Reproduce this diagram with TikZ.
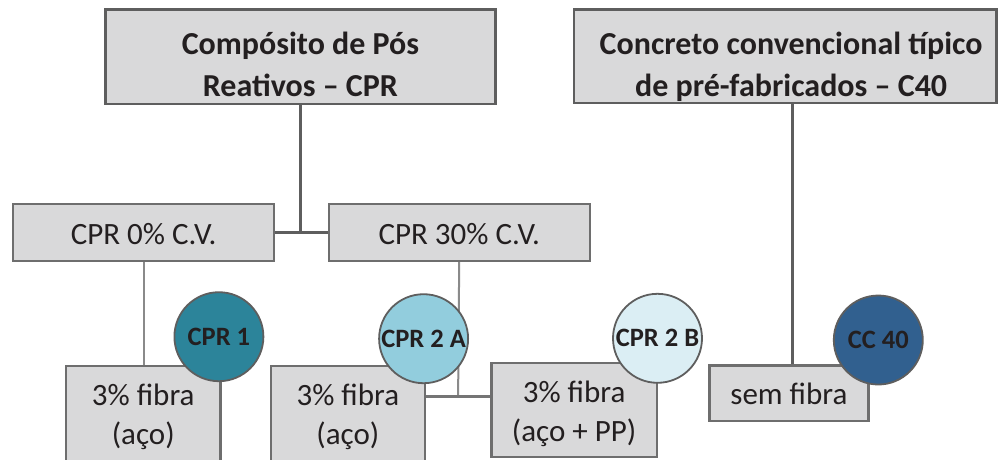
\documentclass[tikz,border=0pt]{standalone}
\usepackage{fontspec}
\setmainfont{Carlito}
\definecolor{boxfill}{HTML}{D9D9DA}
\definecolor{boxline}{HTML}{6E6E6E}
\definecolor{txt}{HTML}{231F20}
\definecolor{linedark}{HTML}{5E5E5E}
\definecolor{linelight}{HTML}{8A8A8A}
\definecolor{cprone}{HTML}{2C849A}
\definecolor{cprtwoa}{HTML}{92CDDD}
\definecolor{cprtwob}{HTML}{DBEEF4}
\definecolor{ccforty}{HTML}{31608F}
\begin{document}
\begin{tikzpicture}[x=1pt,y=-1pt,
  box/.style={draw=boxline, line width=2.2pt, fill=boxfill, inner xsep=0pt, inner ysep=0pt,
    anchor=north west, align=center, text=txt, font=\fontsize{31}{38.5}\selectfont},
  titlebox/.style={box, line width=2.6pt, draw=linedark, font=\fontsize{32}{41.7}\selectfont\bfseries},
  badge/.style={circle, draw=linedark, line width=1.8pt, inner sep=0pt, minimum size=89pt,
    text=txt, font=\fontsize{26.5}{30}\selectfont\bfseries},
  thick line/.style={draw=linedark, line width=3pt},
  thin line/.style={draw=linelight, line width=2pt}]
\clip (0,0) rectangle (998,459);
\fill[white] (0,0) rectangle (998,459);

% top boxes
\node[titlebox, minimum width=390.3pt, text height=86.7pt, text depth=7.7pt] (cpr) at (104,8.3)
  {Compósito de Pós\\Reativos – CPR};
\node[titlebox, minimum width=422.3pt, text height=86.7pt, text depth=6.7pt] (cc) at (572.7,8.3)
  {\hspace*{12pt}Concreto convencional típico\\\hspace*{12pt}de pré-fabricados – C40};

% middle boxes
\node[box, minimum width=261pt, text height=40.6pt, text depth=16.7pt] (cv0) at (12,202.7) {CPR 0\% C.V.};
\node[box, minimum width=261pt, text height=40.6pt, text depth=16.7pt] (cv30) at (327.6,202.7) {CPR 30\% C.V.};

% bottom boxes
\node[box, minimum width=154.3pt, text height=78pt, text depth=32pt] (f1) at (65,365) {3\% fibra\\(aço)};
\node[box, minimum width=154.5pt, text height=78pt, text depth=32pt] (f2) at (269.5,365) {3\% fibra\\(aço)};
\node[box, minimum width=165.4pt, text height=78.3pt, text depth=16pt] (f3) at (490.3,361.7) {3\% fibra\\(aço + PP)};
\node[box, minimum width=159pt, text height=39pt, text depth=16.7pt] (sf) at (708.3,364.3) {sem fibra};

% connectors
\coordinate (jn) at (458.1,396.7);
\coordinate (ccx) at (792.3,0);
\draw[thick line] (cv0.east) -- (cv30.west);
\draw[thick line] (cpr.south) -- (cpr.south |- cv0.east);
\draw[thin line] (cv0.south) -- (cv0.south |- f1.north);
\draw[thin line] (cv30.south) -- (jn);
\draw[thick line, draw=linelight!85!black] (f2.east |- jn) -- (f3.west |- jn);
\draw[thick line] (cc.south -| ccx) -- (sf.north -| ccx);

% badges
\node[badge, fill=cprone] (b1) at (218.9,336.7) {CPR 1};
\node[badge, fill=cprtwoa] (b2a) at (423.6,338.7) {CPR 2 A};
\node[badge, fill=cprtwob] (b2b) at (657.5,338.3) {CPR 2 B};
\node[badge, fill=ccforty] (b40) at (878.3,340) {CC 40};
\end{tikzpicture}
\end{document}
